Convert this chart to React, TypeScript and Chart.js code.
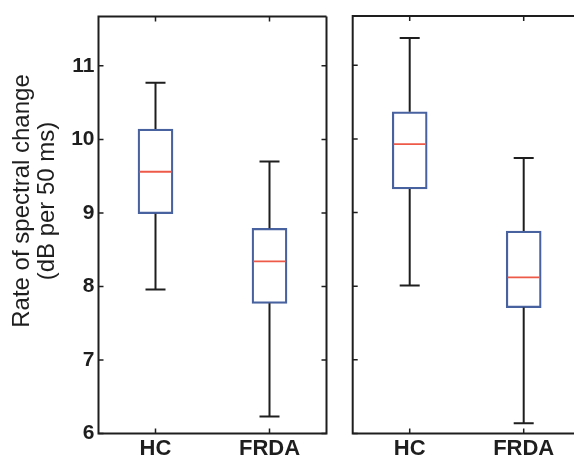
import React, { useEffect, useRef } from "react";
import { Chart, registerables } from "chart.js";

Chart.register(...registerables);

const categories = ["HC", "FRDA"];
const yTicks = [6, 7, 8, 9, 10, 11];
const yMin = 6;
const yMax = 11.67;
const yTitleLines = ["Rate of spectral change", "(dB per 50 ms)"];

const leftMin = [7.96, 6.23];
const leftQ1 = [8.99, 7.77];
const leftMedian = [9.56, 8.34];
const leftQ3 = [10.14, 8.79];
const leftMax = [10.77, 9.7];

const rightMin = [8.01, 6.14];
const rightQ1 = [9.32, 7.71];
const rightMedian = [9.93, 8.12];
const rightQ3 = [10.37, 8.75];
const rightMax = [11.37, 9.74];

const FONT = "'Liberation Sans', Arial, Helvetica, sans-serif";
const BOX_BLUE = "#4862a0";
const MEDIAN_RED = "#ee5a48";
const INK = "#1e1e1e";

type BoxStats = { min: number[]; q1: number[]; median: number[]; q3: number[]; max: number[] };

const boxPlugin = {
  id: "boxExtras",
  afterDatasetsDraw(chart: any, _args: any, opts: any) {
    const s: BoxStats = opts.stats;
    if (!s) return;
    const { ctx } = chart;
    const x = chart.scales.x;
    const y = chart.scales.y;
    const meta = chart.getDatasetMeta(0);
    ctx.save();
    categories.forEach((_, i) => {
      const cx = x.getPixelForValue(i);
      const bar = meta.data[i];
      const half = bar ? bar.width / 2 : 17.5;
      ctx.strokeStyle = INK;
      ctx.lineWidth = 2;
      ctx.beginPath();
      ctx.moveTo(cx, y.getPixelForValue(s.q3[i]));
      ctx.lineTo(cx, y.getPixelForValue(s.max[i]));
      ctx.moveTo(cx, y.getPixelForValue(s.q1[i]));
      ctx.lineTo(cx, y.getPixelForValue(s.min[i]));
      const cap = 10;
      ctx.moveTo(cx - cap, y.getPixelForValue(s.max[i]));
      ctx.lineTo(cx + cap, y.getPixelForValue(s.max[i]));
      ctx.moveTo(cx - cap, y.getPixelForValue(s.min[i]));
      ctx.lineTo(cx + cap, y.getPixelForValue(s.min[i]));
      ctx.stroke();
      ctx.strokeStyle = MEDIAN_RED;
      ctx.lineWidth = 1.8;
      ctx.beginPath();
      const my = y.getPixelForValue(s.median[i]);
      ctx.moveTo(cx - half + 1.5, my);
      ctx.lineTo(cx + half - 1.5, my);
      ctx.stroke();
    });
    ctx.restore();
  },
  afterDraw(chart: any, _args: any, opts: any) {
    const { ctx, chartArea } = chart;
    const { left, right, top, bottom } = chartArea;
    const x = chart.scales.x;
    const y = chart.scales.y;
    ctx.save();
    ctx.strokeStyle = INK;
    ctx.lineWidth = 2;
    ctx.beginPath();
    ctx.moveTo(right, top);
    ctx.lineTo(left, top);
    ctx.lineTo(left, bottom);
    ctx.lineTo(right, bottom);
    if (opts.isLeft) ctx.lineTo(right, top);
    ctx.stroke();
    ctx.lineWidth = 1.5;
    ctx.beginPath();
    const t = 5;
    yTicks.forEach((v) => {
      const py = y.getPixelForValue(v);
      ctx.moveTo(left, py);
      ctx.lineTo(left + t, py);
      if (opts.isLeft) {
        ctx.moveTo(right, py);
        ctx.lineTo(right - t, py);
      }
    });
    categories.forEach((_, i) => {
      const px = x.getPixelForValue(i);
      ctx.moveTo(px, bottom);
      ctx.lineTo(px, bottom - t);
      ctx.moveTo(px, top);
      ctx.lineTo(px, top + t);
    });
    ctx.stroke();
    if (opts.isLeft) {
      ctx.fillStyle = INK;
      ctx.font = `24px ${FONT}`;
      ctx.textAlign = "center";
      ctx.textBaseline = "middle";
      const cy = 201;
      const xs = [22, 47];
      yTitleLines.forEach((line, k) => {
        ctx.save();
        ctx.translate(xs[k], cy);
        ctx.rotate(-Math.PI / 2);
        ctx.fillText(line, 0, 0);
        ctx.restore();
      });
    }
    ctx.restore();
  },
};

function makeConfig(stats: BoxStats, isLeft: boolean, axisWidth: number, padRight: number): any {
  return {
    type: "bar",
    data: {
      labels: categories,
      datasets: [
        {
          data: categories.map((_, i) => [stats.q1[i], stats.q3[i]]),
          backgroundColor: "rgba(255,255,255,0)",
          borderColor: BOX_BLUE,
          borderWidth: 1.6,
          borderSkipped: false,
          barThickness: 35,
        },
      ],
    },
    options: {
      animation: false,
      responsive: true,
      maintainAspectRatio: false,
      layout: { padding: { left: 0, right: padRight, top: 16, bottom: 0 } },
      plugins: {
        legend: { display: false },
        tooltip: { enabled: false },
        boxExtras: { stats, isLeft },
      },
      scales: {
        x: {
          type: "category",
          offset: true,
          grid: { display: false, drawTicks: false },
          border: { display: false },
          ticks: {
            color: INK,
            padding: 2,
            font: { family: FONT, size: 22, weight: "bold" },
          },
          afterFit(scale: any) {
            scale.height = 25.5;
          },
        },
        y: {
          type: "linear",
          min: yMin,
          max: yMax,
          grid: { display: false, drawTicks: false },
          border: { display: false },
          afterBuildTicks(scale: any) {
            scale.ticks = yTicks.map((v) => ({ value: v }));
          },
          ticks: {
            display: isLeft,
            color: INK,
            padding: 4,
            font: { family: FONT, size: 21, weight: "bold" },
          },
          title: { display: false },
          afterFit(scale: any) {
            scale.width = axisWidth;
          },
        },
      },
    },
    plugins: [boxPlugin],
  };
}

function Panel(props: { stats: BoxStats; isLeft: boolean; axisWidth: number; padRight: number; left: number; width: number }) {
  const ref = useRef<HTMLCanvasElement | null>(null);
  useEffect(() => {
    if (!ref.current) return;
    const chart = new Chart(ref.current, makeConfig(props.stats, props.isLeft, props.axisWidth, props.padRight));
    return () => chart.destroy();
  }, []);
  return (
    <div style={{ position: "absolute", left: props.left, top: 0, width: props.width, height: 459 }}>
      <canvas ref={ref} />
    </div>
  );
}

export default function App() {
  useEffect(() => {
    document.body.style.margin = "0";
  }, []);
  const leftStats: BoxStats = { min: leftMin, q1: leftQ1, median: leftMedian, q3: leftQ3, max: leftMax };
  const rightStats: BoxStats = { min: rightMin, q1: rightQ1, median: rightMedian, q3: rightQ3, max: rightMax };
  return (
    <div style={{ position: "relative", width: 574, height: 459, overflow: "hidden", background: "#fff" }}>
      <Panel stats={leftStats} isLeft={true} axisWidth={98.5} padRight={13.5} left={0} width={340} />
      <Panel stats={rightStats} isLeft={false} axisWidth={12.7} padRight={19.3} left={340} width={260} />
    </div>
  );
}
